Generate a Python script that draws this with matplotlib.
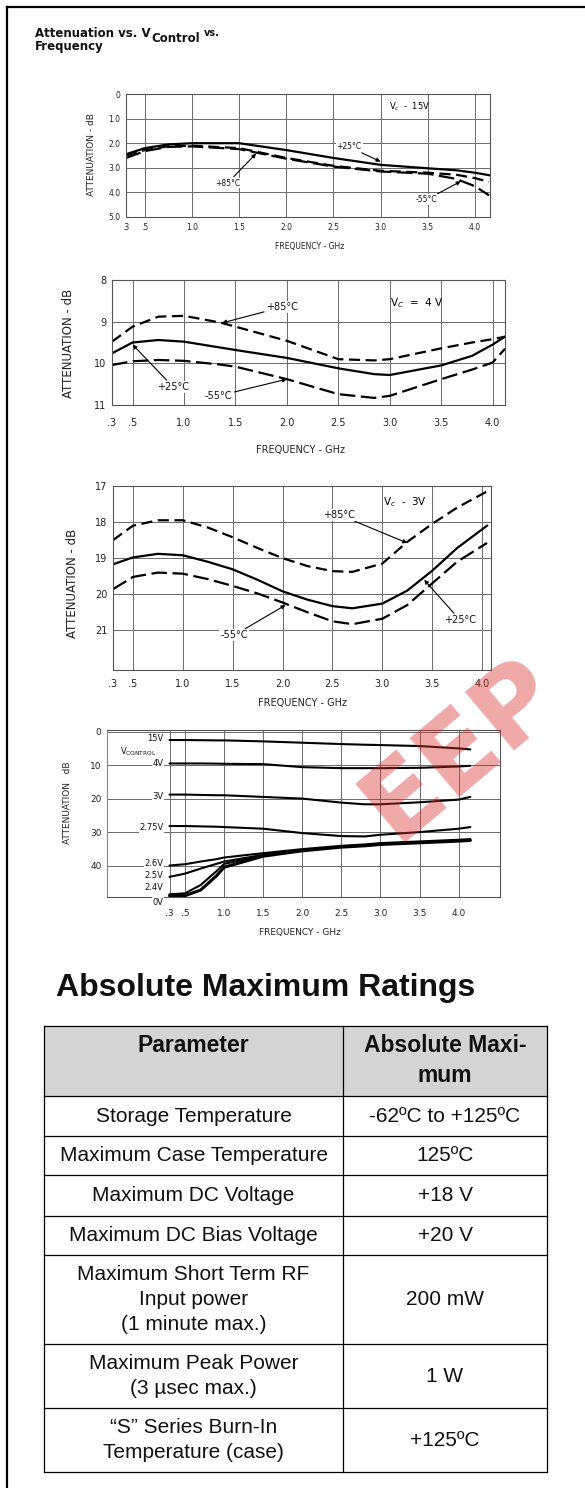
import numpy as np
import matplotlib
matplotlib.use("Agg")
import matplotlib.pyplot as plt
from matplotlib.patches import Rectangle

W, H = 585, 1488

# Frequency axis shared by all four graphs (GHz)
freq_ticks = [0.3, 0.5, 1.0, 1.5, 2.0, 2.5, 3.0, 3.5, 4.0]
freq_labels = ['.3', '.5', '1.0', '1.5', '2.0', '2.5', '3.0', '3.5', '4.0']

# Graph 1: Vc = 15V (attenuation dB)
freq1 = [0.3, 0.5, 0.75, 1.0, 1.5, 2.0, 2.5, 3.0, 3.5, 3.8, 4.0, 4.15]
att1_p25 = [2.45, 2.2, 2.05, 2.0, 2.0, 2.28, 2.6, 2.88, 3.02, 3.1, 3.2, 3.3]
att1_p85 = [2.5, 2.28, 2.12, 2.1, 2.2, 2.6, 2.92, 3.12, 3.2, 3.28, 3.42, 3.57]
att1_m55 = [2.6, 2.32, 2.15, 2.13, 2.24, 2.63, 2.95, 3.15, 3.24, 3.45, 3.75, 4.12]

# Graph 2: Vc = 4V
freq2 = [0.3, 0.5, 0.75, 1.0, 1.35, 1.5, 2.0, 2.5, 2.85, 3.0, 3.5, 3.8, 4.0, 4.12]
att2_p85 = [9.48, 9.12, 8.88, 8.86, 9.02, 9.12, 9.46, 9.9, 9.93, 9.9, 9.64, 9.5, 9.42, 9.36]
att2_p25 = [9.76, 9.5, 9.44, 9.48, 9.62, 9.68, 9.87, 10.12, 10.26, 10.28, 10.05, 9.82, 9.55, 9.36]
att2_m55 = [10.04, 9.95, 9.92, 9.94, 10.03, 10.08, 10.38, 10.74, 10.83, 10.78, 10.38, 10.15, 9.98, 9.65]

# Graph 3: Vc = 3V
freq3 = [0.3, 0.5, 0.75, 1.0, 1.25, 1.5, 1.75, 2.0, 2.25, 2.5, 2.7, 3.0, 3.25, 3.5, 3.75, 4.05]
att3_p85 = [18.5, 18.1, 17.95, 17.95, 18.15, 18.42, 18.72, 19.0, 19.22, 19.36, 19.38, 19.15, 18.55, 18.05, 17.6, 17.15]
att3_p25 = [19.17, 18.98, 18.88, 18.92, 19.1, 19.31, 19.6, 19.92, 20.15, 20.33, 20.39, 20.26, 19.9, 19.35, 18.72, 18.1]
att3_m55 = [19.86, 19.52, 19.4, 19.43, 19.58, 19.77, 19.98, 20.23, 20.5, 20.75, 20.83, 20.68, 20.3, 19.7, 19.1, 18.58]

# Graph 4: attenuation vs Vcontrol
freq4 = [0.3, 0.5, 0.7, 0.9, 1.0, 1.5, 2.0, 2.5, 2.8, 3.0, 3.5, 4.0, 4.15]
att4_15v = [2.5, 2.5, 2.55, 2.6, 2.6, 2.9, 3.3, 3.7, 3.9, 4.0, 4.3, 5.0, 5.3]
att4_4v = [9.5, 9.5, 9.5, 9.55, 9.6, 9.7, 10.6, 10.9, 10.9, 10.9, 10.8, 10.4, 10.2]
att4_3v = [18.8, 18.8, 18.9, 19.0, 19.0, 19.5, 20.0, 21.2, 21.7, 21.7, 21.1, 20.3, 19.5]
att4_275v = [28.2, 28.2, 28.3, 28.4, 28.5, 29.0, 30.3, 31.2, 31.3, 30.8, 30.0, 29.0, 28.5]
att4_26v = [40.0, 39.6, 38.8, 38.1, 37.6, 36.3, 35.1, 34.1, 33.7, 33.3, 32.8, 32.3, 32.1]
att4_25v = [43.4, 42.4, 40.9, 39.5, 38.8, 36.8, 35.4, 34.3, 33.9, 33.5, 33.0, 32.5, 32.3]
att4_24v = [48.6, 48.3, 45.8, 41.7, 39.5, 37.0, 35.5, 34.4, 34.0, 33.6, 33.1, 32.6, 32.4]
att4_0v = [49.0, 49.0, 47.3, 43.1, 40.5, 37.2, 35.6, 34.5, 34.1, 33.7, 33.2, 32.7, 32.5]
vc_names = ['15V', '4V', '3V', '2.75V', '2.6V', '2.5V', '2.4V', '0V']
vc_label_y = [2.0, 9.5, 19.4, 28.7, 39.5, 43.1, 46.7, 50.9]

# Absolute maximum ratings table
table_header = ["Parameter", "Absolute Maxi-\nmum"]
table_params = ["Storage Temperature", "Maximum Case Temperature", "Maximum DC Voltage",
                "Maximum DC Bias Voltage", "Maximum Short Term RF\nInput power\n(1 minute max.)",
                "Maximum Peak Power\n(3 \u00b5sec max.)", "\u201cS\u201d Series Burn-In\nTemperature (case)"]
table_values = ["-62\u00baC to +125\u00baC", "125\u00baC", "+18 V", "+20 V", "200 mW", "1 W", "+125\u00baC"]
row_edges = [1026, 1096, 1136, 1175, 1216, 1255, 1344, 1408, 1472]
col_edges = [44, 343, 547]

fig = plt.figure(figsize=(W / 100, H / 100), dpi=100)
fig.patch.set_facecolor('white')
bg = fig.add_axes([0, 0, 1, 1], zorder=-1)
bg.set_xlim(0, W)
bg.set_ylim(H, 0)
bg.axis('off')

# page frame
bg.plot([7, 7], [7, H], color='k', lw=1.6)
bg.plot([7, W], [7, 7], color='k', lw=1.6)

# title, built piece by piece
r = fig.canvas.get_renderer()
tfont = dict(family='DejaVu Sans', weight='bold', color='#111')
t = bg.text(35, 37, "Attenuation vs. V", fontsize=8.5, va='baseline', **tfont)
x = t.get_window_extent(r).x1
t = bg.text(x + 1, 42, "Control", fontsize=8.5, va='baseline', **tfont)
x = t.get_window_extent(r).x1
bg.text(x + 4, 36, "vs.", fontsize=7, va='baseline', **tfont)
bg.text(35, 50, "Frequency", fontsize=8.5, va='baseline', **tfont)


def make_axes(l, t, rr, b, xlim, ylim, yticks, ylabels, fs, pad):
    ax = fig.add_axes([l / W, 1 - b / H, (rr - l) / W, (b - t) / H])
    ax.set_xlim(xlim)
    ax.set_ylim(ylim)
    ax.set_xticks(freq_ticks, freq_labels)
    ax.set_yticks(yticks, ylabels)
    ax.tick_params(axis='x', length=0, labelsize=fs, labelcolor='#222', pad=pad)
    ax.tick_params(axis='y', length=0, labelsize=fs, labelcolor='#222', pad=4)
    ax.grid(True, color='#6a6a6a', lw=0.7)
    for s in ax.spines.values():
        s.set_color('#555')
        s.set_linewidth(0.8)
    return ax


def note(ax, text, xy, xytext, ha='left', fs=6.5):
    ax.annotate(text, xy=xy, xytext=xytext, ha=ha, va='center', fontsize=fs, color='#111',
                bbox=dict(fc='white', ec='none', pad=0.6),
                arrowprops=dict(arrowstyle='-|>', color='k', lw=0.8, mutation_scale=6,
                                shrinkA=1, shrinkB=0))


def axis_text(xc, yc, xl_y, yl_x, xl_fs, yl_fs, ylab="ATTENUATION - dB"):
    bg.text(xc, xl_y, "FREQUENCY - GHz", fontsize=xl_fs, ha='center', va='center', color='#222')
    bg.text(yl_x, yc, ylab, fontsize=yl_fs, rotation=90, ha='center', va='center', color='#222')


solid = dict(color='k', lw=1.6)
dash85 = dict(color='k', lw=1.6, dashes=(5, 2.5))
dash55 = dict(color='k', lw=1.6, dashes=(7, 2.5))

# ---- graph 1 ----
ax1 = make_axes(126, 94, 490, 217, (0.3, 4.16), (5, 0), [0, 1, 2, 3, 4, 5],
                ['0', '1.0', '2.0', '3.0', '4.0', '5.0'], 5.5, 4)
ax1.plot(freq1, att1_p25, **solid)
ax1.plot(freq1, att1_p85, **dash85)
ax1.plot(freq1, att1_m55, **dash55)
ax1.text(3.31, 0.53, r"V$_c$  -  15V", fontsize=6, ha='center', va='center')
note(ax1, "+25\u00b0C", (3.0, 2.75), (2.8, 2.15), ha='right', fs=5.5)
note(ax1, "+85\u00b0C", (1.68, 2.42), (1.51, 3.62), ha='right', fs=5.5)
note(ax1, "-55\u00b0C", (3.85, 3.55), (3.6, 4.3), ha='right', fs=5.5)
axis_text(310, 155, 246, 91, 5.5, 6.5)

# ---- graph 2 ----
ax2 = make_axes(112, 280, 505, 405, (0.3, 4.12), (11, 8), [8, 9, 10, 11],
                ['8', '9', '10', '11'], 7, 9)
ax2.plot(freq2, att2_p85, **dash85)
ax2.plot(freq2, att2_p25, **solid)
ax2.plot(freq2, att2_m55, **dash55)
ax2.text(3.26, 8.55, r"V$_C$  =  4 V", fontsize=7.5, ha='center', va='center')
note(ax2, "+85\u00b0C", (1.37, 9.03), (1.8, 8.65), fs=7)
note(ax2, "+25\u00b0C", (0.5, 9.55), (0.74, 10.57), fs=7)
note(ax2, "-55\u00b0C", (2.0, 10.38), (1.2, 10.78), fs=7)
axis_text(300, 343, 450, 68, 7, 8.5)

# ---- graph 3 ----
ax3 = make_axes(113, 486, 491, 670, (0.3, 4.09), (22.1, 17), [17, 18, 19, 20, 21],
                ['17', '18', '19', '20', '21'], 7, 6.5)
ax3.plot(freq3, att3_p85, **dash85)
ax3.plot(freq3, att3_p25, **solid)
ax3.plot(freq3, att3_m55, **dash55)
ax3.text(3.23, 17.44, r"V$_c$  -  3V", fontsize=7.5, ha='center', va='center')
note(ax3, "+85\u00b0C", (3.25, 18.58), (2.73, 17.8), ha='right', fs=7)
note(ax3, "+25\u00b0C", (3.42, 19.6), (3.62, 20.72), fs=7)
note(ax3, "-55\u00b0C", (2.03, 20.3), (1.65, 21.14), ha='right', fs=7)
axis_text(302, 583, 703, 72, 7, 8.5)

# ---- graph 4 ----
ax4 = make_axes(107, 730, 500, 897, (-0.5, 4.53), (49.4, -0.5), [0, 10, 20, 30, 40],
                ['0', '10', '20', '30', '40'], 6.5, 8.5)
ax4.spines['left'].set_color('#888')
curves4 = [att4_15v, att4_4v, att4_3v, att4_275v, att4_26v, att4_25v, att4_24v, att4_0v]
for i, att in enumerate(curves4):
    ax4.plot(freq4, att, color='k', lw=2.2 if i == 7 else 1.5, solid_capstyle='round')
for name, yv in zip(vc_names, vc_label_y):
    ax4.text(0.22, yv, name, fontsize=6, ha='right', va='center', color='#111',
             bbox=dict(fc='white', ec='none', pad=0.3))
ax4.text(-0.33, 6.1, r"V$_{\rm CONTROL}$", fontsize=6, ha='left', va='center', color='#111',
         bbox=dict(fc='white', ec='none', pad=0.3))
axis_text(300, 803, 932, 67, 6.5, 6.5, ylab="ATTENUATION   dB")

# ---- ratings table ----
bg.text(56, 988, "Absolute Maximum Ratings", fontsize=23, weight='bold', family='Liberation Sans',
        ha='left', va='center', color='#111')
bg.add_patch(Rectangle((col_edges[0], row_edges[0]), col_edges[2] - col_edges[0],
                       row_edges[1] - row_edges[0], fc='#d4d4d4', ec='none'))
for yy in row_edges:
    bg.plot([col_edges[0], col_edges[2]], [yy, yy], color='k', lw=0.9)
for xx in col_edges:
    bg.plot([xx, xx], [row_edges[0], row_edges[-1]], color='k', lw=0.9)


def cell_text(xc, yc, text, fs, weight='normal', lh=25.5):
    lines = text.split('\n')
    n = len(lines)
    for i, ln in enumerate(lines):
        bg.text(xc, yc + (i - (n - 1) / 2) * lh, ln, fontsize=fs, weight=weight,
                family='Liberation Sans', ha='center', va='center', color='#111')


c1 = (col_edges[0] + col_edges[1]) / 2
c2 = (col_edges[1] + col_edges[2]) / 2
bg.text(c1, 1046, table_header[0], fontsize=16.5, weight='bold', family='Liberation Sans',
        ha='center', va='center', color='#111')
cell_text(c2, 1061, table_header[1], 16.5, weight='bold', lh=30)
for k, (p, v) in enumerate(zip(table_params, table_values)):
    yc = (row_edges[k + 1] + row_edges[k + 2]) / 2
    cell_text(c1, yc, p, 15)
    cell_text(c2, yc, v, 15)

# watermark, kept inside the page
fig.text(462 / W, 1 - 750 / H, "EEP", fontsize=76, weight='bold', color='#d93030', alpha=0.42,
         rotation=40, ha='center', va='center', zorder=10)

fig.savefig('out.png', dpi=100, facecolor='white')
